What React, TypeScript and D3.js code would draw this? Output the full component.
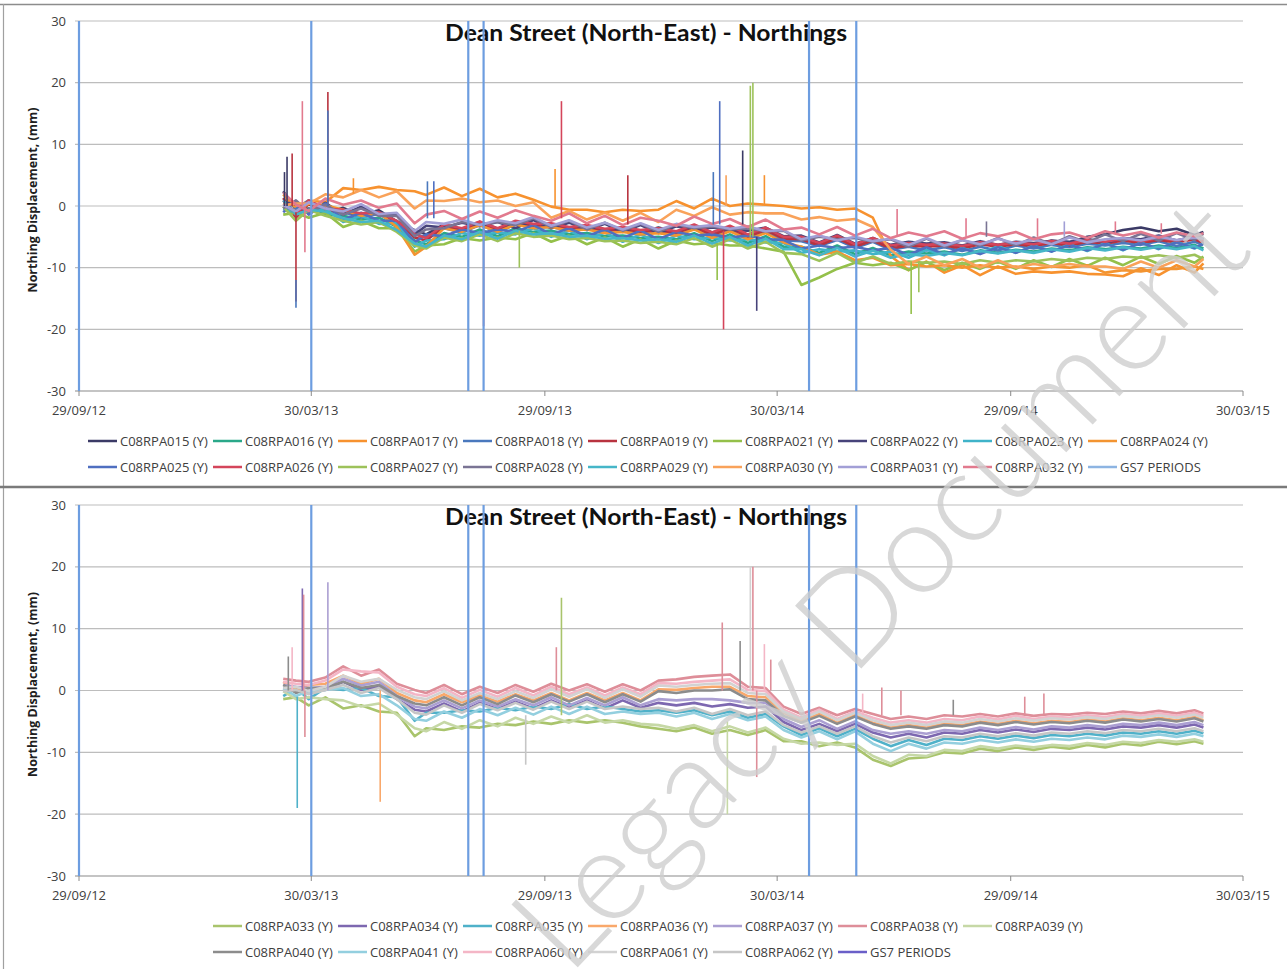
import * as d3 from "d3";

// sample dates shared by every series (both panels)
const dates = [
  "2013-03-08", "2013-03-18", "2013-03-28", "2013-04-10", "2013-04-24", "2013-05-08", "2013-05-22", "2013-06-05", "2013-06-19", "2013-06-28",
  "2013-07-12", "2013-07-26", "2013-08-09", "2013-08-23", "2013-09-06", "2013-09-20", "2013-10-04", "2013-10-18", "2013-11-01", "2013-11-15",
  "2013-11-29", "2013-12-13", "2013-12-27", "2014-01-10", "2014-01-24", "2014-02-07", "2014-02-21", "2014-03-07", "2014-03-21", "2014-04-04",
  "2014-04-18", "2014-05-02", "2014-05-16", "2014-05-30", "2014-06-13", "2014-06-27", "2014-07-11", "2014-07-25", "2014-08-08", "2014-08-22",
  "2014-09-05", "2014-09-19", "2014-10-03", "2014-10-17", "2014-10-31", "2014-11-14", "2014-11-28", "2014-12-12", "2014-12-26", "2015-01-09",
  "2015-01-23", "2015-02-06", "2015-02-20", "2015-02-27",
];

const xTickDates = ["2012-09-29", "2013-03-30", "2013-09-29", "2014-03-30", "2014-09-29", "2015-03-30"];
const xTickLabels = ["29/09/12", "30/03/13", "29/09/13", "30/03/14", "29/09/14", "30/03/15"];
const yTicks = [-30, -20, -10, 0, 10, 20, 30];
const gs7Dates = ["2012-09-29", "2013-03-30", "2013-07-31", "2013-08-12", "2014-04-24", "2014-05-31"];

// ---- top chart series (mm)
const topNames = [
  "C08RPA015", "C08RPA016", "C08RPA017", "C08RPA018", "C08RPA019", "C08RPA021", "C08RPA022", "C08RPA023", "C08RPA024",
  "C08RPA025", "C08RPA026", "C08RPA027", "C08RPA028", "C08RPA029", "C08RPA030", "C08RPA031", "C08RPA032",
];
const s015 = [2.4, -0.6, -0.4, -1.1, -0.3, -1.4, -0.7, -2.5, -3.9, -4.6, -3.0, -3.8, -2.6, -3.7, -2.7, -3.3, -3.1, -3.8, -3.3, -4.0, -3.6, -4.3, -3.5, -4.2, -3.2, -4.3, -3.6, -4.7, -3.8, -5.1, -5.2, -6.1, -5.1, -6.3, -5.5, -6.5, -6.1, -6.6, -6.1, -6.7, -6.0, -6.5, -5.9, -6.2, -5.6, -5.9, -5.0, -4.6, -3.9, -3.5, -4.1, -3.7, -4.7, -4.2];
const s016 = [-0.1, -1.4, 0.4, -1.4, -1.6, -2.2, -1.9, -3.4, -5.6, -6.2, -4.4, -5.0, -3.8, -4.9, -3.6, -4.2, -4.0, -4.6, -4.4, -4.9, -4.8, -5.2, -5.0, -5.4, -4.4, -5.7, -4.6, -6.0, -4.9, -6.6, -6.6, -7.6, -6.4, -7.8, -6.8, -8.0, -7.4, -7.7, -7.4, -7.9, -7.2, -7.6, -7.1, -7.4, -6.9, -7.2, -6.7, -7.0, -6.6, -6.9, -6.4, -6.8, -6.3, -6.9];
const s017 = [1.9, -0.4, 0.9, 0.6, 2.9, 2.6, 3.1, 2.6, 2.4, 1.8, 3.0, 1.6, 2.8, 1.4, 2.0, 1.0, -0.1, -0.6, -0.6, -1.0, -0.6, -0.8, -0.6, 0.8, -0.4, 1.2, 0.0, 0.4, 0.2, 0.0, -0.4, -0.2, -0.6, -0.4, -1.9, -8.1, -10.4, -9.0, -10.8, -9.6, -11.2, -9.8, -11.0, -10.6, -10.8, -10.6, -11.0, -11.1, -11.4, -10.1, -11.2, -9.6, -10.8, -9.3];
const s018 = [-0.4, -0.5, 0.9, -1.1, -1.0, -1.8, -1.3, -3.0, -4.5, -5.1, -3.6, -4.3, -3.1, -4.2, -3.0, -3.5, -3.4, -4.0, -3.6, -4.3, -4.0, -4.6, -4.2, -4.7, -3.7, -4.9, -3.9, -5.2, -4.2, -5.6, -5.7, -6.5, -5.5, -6.8, -5.8, -7.1, -6.6, -7.2, -6.7, -7.3, -6.6, -7.2, -6.4, -6.9, -6.3, -6.7, -6.1, -6.4, -6.0, -6.3, -5.7, -6.5, -5.8, -6.3];
const s019 = [1.3, -1.9, 0.4, -0.9, -0.8, -1.5, -1.1, -2.6, -5.1, -5.6, -3.4, -4.0, -2.8, -4.0, -2.9, -3.3, -3.2, -3.7, -3.5, -4.0, -3.8, -4.2, -4.0, -4.4, -3.4, -4.7, -3.6, -5.0, -3.9, -5.3, -5.4, -6.4, -5.2, -6.6, -5.6, -6.9, -6.4, -6.6, -6.4, -6.9, -6.2, -6.6, -6.2, -6.5, -6.0, -6.4, -5.8, -6.1, -5.6, -6.0, -5.5, -5.9, -5.4, -6.0];
const s021 = [-1.4, -1.1, -1.9, -1.1, -3.4, -2.4, -3.6, -3.6, -7.4, -6.4, -6.2, -5.2, -5.6, -5.1, -5.4, -4.4, -5.8, -4.8, -6.2, -5.1, -6.6, -5.4, -6.9, -5.6, -6.2, -6.0, -6.4, -6.4, -6.9, -7.4, -12.8, -11.6, -10.2, -9.2, -9.6, -9.2, -10.4, -9.1, -10.4, -9.2, -10.2, -9.0, -10.2, -8.8, -9.9, -8.6, -9.7, -8.4, -9.6, -8.2, -9.4, -8.1, -9.2, -8.2];
const s022 = [0.6, 0.3, -1.1, 0.5, -1.4, -0.1, -1.5, -1.3, -4.6, -3.2, -3.5, -2.7, -3.3, -2.6, -3.6, -2.3, -3.6, -2.7, -3.9, -2.9, -4.2, -3.1, -4.4, -3.3, -3.7, -3.5, -3.9, -4.0, -3.5, -4.9, -4.8, -5.9, -4.7, -6.1, -5.2, -6.3, -5.8, -6.1, -5.9, -6.4, -5.7, -6.3, -5.8, -6.0, -5.7, -5.8, -5.3, -6.0, -5.2, -5.4, -4.8, -5.6, -4.9, -5.4];
const s023 = [-0.4, -1.1, -0.9, -0.4, -2.6, -1.6, -2.9, -2.8, -6.6, -5.6, -5.4, -4.4, -4.8, -4.3, -4.6, -3.6, -5.0, -4.0, -5.4, -4.3, -5.8, -4.6, -6.0, -4.8, -5.4, -5.1, -5.6, -5.4, -5.9, -6.0, -7.6, -7.0, -7.4, -7.2, -7.8, -7.4, -8.4, -7.1, -8.0, -6.8, -7.7, -6.5, -7.6, -6.4, -7.4, -6.2, -7.3, -6.0, -7.2, -5.9, -7.0, -5.8, -6.9, -6.0];
const s024 = [0.4, -0.9, 0.4, 0.1, -0.6, -1.6, -1.1, -3.4, -7.9, -6.6, -3.6, -4.2, -3.1, -4.2, -3.0, -3.6, -3.4, -4.0, -3.8, -4.4, -4.2, -4.6, -4.4, -4.8, -3.8, -5.2, -4.1, -5.4, -4.4, -5.9, -6.6, -7.9, -7.4, -8.8, -8.4, -9.6, -9.4, -9.8, -9.6, -10.0, -9.6, -10.0, -9.8, -10.2, -9.8, -10.0, -9.6, -10.8, -10.4, -10.6, -10.2, -10.2, -9.8, -10.2];
const s025 = [-1.0, 0.8, -1.4, 0.4, -2.2, -1.1, -2.4, -2.4, -5.9, -4.6, -4.9, -3.8, -4.4, -3.8, -4.2, -3.1, -4.6, -3.6, -4.9, -3.8, -5.2, -4.0, -5.4, -4.2, -4.8, -4.6, -5.1, -4.8, -5.4, -5.5, -6.9, -6.4, -6.8, -6.6, -7.2, -6.8, -7.9, -6.7, -7.8, -6.9, -7.8, -6.7, -7.6, -6.5, -7.4, -6.3, -7.2, -6.1, -7.1, -6.0, -6.9, -5.9, -6.8, -6.1];
const s026 = [0.9, -1.4, 0.9, -0.4, -0.6, -1.2, -1.0, -2.4, -4.6, -5.2, -3.0, -3.6, -2.5, -3.6, -2.4, -2.9, -2.8, -3.4, -3.1, -3.7, -3.4, -3.9, -3.6, -4.1, -3.0, -4.3, -3.2, -4.6, -3.5, -5.0, -5.0, -6.0, -4.8, -6.2, -5.2, -6.4, -6.0, -6.3, -6.1, -6.5, -5.9, -6.3, -5.9, -6.2, -5.7, -6.1, -5.5, -5.8, -5.3, -5.7, -5.2, -5.6, -5.1, -5.7];
const s027 = [-0.1, -2.4, -0.6, -1.6, -2.4, -3.0, -2.6, -4.2, -6.4, -6.9, -5.1, -5.7, -4.6, -5.7, -4.4, -5.0, -4.8, -5.4, -5.2, -5.7, -5.6, -6.0, -5.8, -6.2, -5.2, -6.6, -5.4, -6.9, -5.8, -7.6, -7.8, -8.9, -7.6, -9.2, -8.2, -9.4, -9.0, -9.2, -9.0, -9.4, -8.8, -9.2, -8.8, -9.0, -8.6, -8.9, -8.4, -8.6, -8.2, -8.4, -8.0, -8.4, -7.9, -8.6];
const s028 = [-0.4, 0.9, -0.9, 0.2, -1.4, -0.4, -1.6, -1.6, -4.9, -3.8, -3.6, -2.6, -3.0, -2.6, -3.1, -2.0, -3.4, -2.4, -3.8, -2.7, -4.0, -2.9, -4.2, -3.0, -3.6, -3.3, -3.8, -3.6, -4.1, -4.0, -5.6, -5.0, -5.4, -5.2, -5.8, -5.4, -6.6, -5.3, -6.6, -5.5, -6.4, -5.2, -6.4, -5.1, -6.2, -4.9, -5.9, -4.6, -5.7, -4.5, -5.6, -4.4, -5.5, -4.5];
const s029 = [0.9, -1.4, -0.6, -0.9, -2.0, -2.6, -2.4, -3.9, -6.1, -6.6, -4.8, -5.4, -4.2, -5.3, -4.0, -4.6, -4.4, -5.0, -4.8, -5.3, -5.2, -5.6, -5.4, -5.8, -4.8, -6.1, -5.0, -6.4, -5.3, -7.0, -7.0, -8.0, -6.8, -8.2, -7.2, -8.4, -7.8, -8.1, -7.6, -8.0, -7.3, -7.7, -7.2, -7.6, -7.0, -7.4, -6.8, -7.2, -6.7, -7.1, -6.6, -7.0, -6.5, -7.2];
const s030 = [0.1, 0.4, 0.4, 1.9, 1.4, 2.6, 1.4, 2.4, -0.4, 0.9, 0.8, 1.2, 0.6, 0.9, 0.0, 0.6, -1.9, -0.8, -2.2, -1.1, -2.4, -1.1, -2.6, -0.6, -1.6, -0.2, -1.4, -1.0, -1.2, -1.2, -2.2, -1.8, -2.4, -2.1, -3.4, -7.1, -9.4, -8.2, -9.6, -8.6, -10.0, -8.8, -10.0, -9.4, -9.8, -9.4, -9.8, -9.8, -10.2, -9.0, -10.0, -8.8, -9.8, -8.6];
const s031 = [0.2, -0.9, 0.6, -0.4, -0.9, 0.3, -1.3, -1.1, -4.1, -2.6, -2.9, -2.2, -3.1, -2.3, -2.8, -1.8, -3.2, -2.3, -3.5, -2.7, -3.8, -2.8, -3.9, -2.9, -3.4, -3.1, -3.7, -3.3, -4.1, -3.9, -5.4, -4.8, -5.6, -5.0, -5.7, -5.3, -6.3, -5.2, -6.4, -5.5, -6.2, -5.3, -6.1, -5.4, -6.2, -5.1, -5.9, -5.4, -5.2, -5.6, -5.0, -5.5, -5.1, -5.3];
const s032 = [2.2, 0.2, -0.8, 1.2, 0.2, 0.9, -0.3, 0.4, -2.8, -1.4, -0.8, -2.1, -0.9, -1.9, -0.7, -1.6, -2.4, -1.2, -2.8, -1.6, -3.1, -1.9, -2.4, -3.2, -1.7, -2.9, -2.1, -3.4, -2.2, -3.8, -3.5, -4.6, -3.4, -4.8, -3.7, -5.2, -4.3, -4.9, -4.1, -5.3, -4.4, -4.9, -4.2, -5.4, -4.6, -4.3, -5.2, -4.1, -4.8, -4.2, -5.1, -4.3, -4.9, -4.4];
const topValues = [s015, s016, s017, s018, s019, s021, s022, s023, s024, s025, s026, s027, s028, s029, s030, s031, s032];

// single-reading spikes: [series, date, level before, spike value]
const topSpikes: [string, string, number, number][] = [
  ["C08RPA015", "2013-03-09", 0, 5.5],
  ["C08RPA015", "2013-03-11", 0, 8],
  ["C08RPA019", "2013-03-15", 0, 8.5],
  ["C08RPA019", "2013-03-18", -1, -15.5],
  ["C08RPA018", "2013-03-18", -12, -16.5],
  ["C08RPA032", "2013-03-23", 0, 17],
  ["C08RPA032", "2013-03-25", 0, -7.5],
  ["C08RPA019", "2013-04-12", 0, 18.5],
  ["C08RPA018", "2013-04-12", 0, 15.5],
  ["C08RPA017", "2013-05-02", 2, 4.5],
  ["C08RPA018", "2013-06-29", -2, 4],
  ["C08RPA025", "2013-07-04", -2, 4],
  ["C08RPA026", "2013-08-12", -3, -19.5],
  ["C08RPA027", "2013-09-09", -4, -10],
  ["C08RPA017", "2013-10-07", 0, 6],
  ["C08RPA026", "2013-10-12", -2, 17],
  ["C08RPA019", "2013-12-03", -3, 5],
  ["C08RPA018", "2014-02-08", -3, 5.5],
  ["C08RPA021", "2014-02-11", -6, -12],
  ["C08RPA025", "2014-02-13", -3, 17],
  ["C08RPA026", "2014-02-16", -4, -20],
  ["C08RPA030", "2014-02-18", 0, 5],
  ["C08RPA015", "2014-03-03", -3, 9],
  ["C08RPA027", "2014-03-09", -5, 19.5],
  ["C08RPA027", "2014-03-11", -5, 20],
  ["C08RPA022", "2014-03-14", -5, -17],
  ["C08RPA017", "2014-03-20", 0, 5],
  ["C08RPA032", "2014-07-02", -5, -0.5],
  ["C08RPA021", "2014-07-13", -9, -17.5],
  ["C08RPA027", "2014-07-19", -9, -14],
  ["C08RPA032", "2014-08-25", -5, -2],
  ["C08RPA028", "2014-09-10", -5, -2.5],
  ["C08RPA032", "2014-10-20", -5, -2],
  ["C08RPA031", "2014-11-10", -5, -2.5],
  ["C08RPA032", "2014-12-20", -4.5, -2.5],
  ["C08RPA032", "2015-01-25", -4.5, -2.8],
];

// ---- bottom chart series (mm)
const bottomNames = [
  "C08RPA033", "C08RPA034", "C08RPA035", "C08RPA036", "C08RPA037", "C08RPA038", "C08RPA039",
  "C08RPA040", "C08RPA041", "C08RPA060", "C08RPA061", "C08RPA062",
];
const s033 = [-1.4, -1.1, -2.4, -1.1, -2.9, -2.4, -3.4, -3.6, -7.4, -6.1, -6.4, -5.8, -6.0, -5.4, -5.6, -5.0, -5.4, -4.8, -5.2, -4.8, -5.2, -5.8, -6.2, -6.6, -6.0, -7.0, -6.4, -7.2, -6.4, -8.2, -8.2, -9.0, -8.4, -9.2, -11.2, -12.2, -11.0, -10.8, -10.0, -10.2, -9.4, -9.8, -9.2, -9.6, -9.1, -9.4, -8.8, -9.2, -8.6, -8.9, -8.3, -8.7, -8.2, -8.6];
const s034 = [0.4, 0.1, -0.1, 0.1, 1.4, 0.1, 0.6, -1.4, -3.1, -3.4, -2.1, -3.4, -2.0, -3.0, -1.8, -2.9, -1.6, -2.8, -1.6, -2.9, -1.6, -2.8, -2.0, -2.4, -2.0, -2.6, -2.2, -2.8, -2.6, -5.1, -6.4, -5.4, -6.6, -5.4, -6.8, -7.6, -7.0, -7.6, -6.8, -7.0, -6.4, -6.8, -6.3, -6.7, -6.2, -6.4, -6.0, -6.3, -5.8, -6.0, -5.6, -6.0, -5.5, -6.0];
const s035 = [-0.9, 0.4, -1.4, 0.4, 0.1, 0.4, -0.9, -1.1, -4.9, -3.6, -3.6, -3.2, -3.4, -2.8, -3.2, -2.6, -3.0, -2.2, -3.0, -2.6, -3.0, -3.4, -3.2, -3.6, -3.2, -4.0, -3.4, -4.4, -3.8, -5.8, -7.2, -6.1, -7.4, -6.2, -7.8, -9.0, -8.0, -8.8, -7.8, -8.0, -7.4, -7.8, -7.3, -7.7, -7.2, -7.4, -7.0, -7.3, -6.8, -7.0, -6.6, -7.0, -6.5, -6.9];
const s036 = [1.4, 0.1, 0.9, 1.1, 2.4, 1.1, 1.9, -0.4, -1.6, -1.9, -0.6, -1.9, -0.8, -1.8, -0.6, -1.6, -0.4, -1.6, -0.4, -1.6, -0.4, -1.6, 0.2, 0.1, 0.4, 0.6, 0.6, -0.9, -1.1, -3.6, -4.9, -3.8, -5.2, -4.0, -5.2, -6.0, -5.6, -6.0, -5.4, -5.6, -5.0, -5.4, -4.9, -5.3, -4.9, -5.1, -4.7, -5.0, -4.5, -4.8, -4.4, -4.8, -4.3, -4.8];
const s037 = [0.9, 0.6, 0.4, 0.6, 1.9, 0.8, 1.4, -0.9, -2.6, -2.9, -1.6, -2.9, -1.6, -2.6, -1.4, -2.4, -1.1, -2.4, -1.2, -2.4, -1.1, -2.4, -1.4, -1.6, -1.4, -1.4, -1.6, -2.0, -2.0, -4.6, -5.9, -4.8, -6.2, -5.0, -6.4, -7.0, -6.6, -7.0, -6.4, -6.6, -6.0, -6.4, -5.9, -6.3, -5.8, -6.0, -5.6, -5.9, -5.4, -5.6, -5.2, -5.6, -5.1, -5.6];
const s038 = [1.9, 1.6, 1.4, 2.1, 3.9, 2.4, 3.4, 1.1, 0.1, -0.4, 0.9, -0.6, 0.6, -0.4, 0.9, -0.2, 1.1, 0.0, 1.0, -0.2, 1.0, 0.0, 1.6, 1.8, 2.2, 2.4, 2.6, 0.6, 0.4, -2.6, -3.8, -2.8, -4.0, -3.0, -3.8, -4.6, -4.2, -4.6, -4.0, -4.2, -3.8, -4.2, -3.7, -4.1, -3.8, -3.9, -3.6, -3.8, -3.4, -3.7, -3.3, -3.7, -3.2, -3.7];
const s039 = [-0.1, -1.4, -1.1, -1.4, -1.6, -2.6, -2.1, -3.9, -6.1, -6.6, -5.1, -6.2, -4.8, -5.8, -4.4, -5.4, -4.2, -5.2, -4.0, -5.2, -4.8, -5.4, -5.6, -6.2, -5.6, -6.6, -5.8, -6.8, -6.0, -7.8, -8.6, -8.4, -8.8, -8.6, -10.6, -11.8, -10.4, -10.6, -9.6, -9.8, -9.0, -9.4, -8.9, -9.2, -8.8, -9.0, -8.5, -8.8, -8.3, -8.5, -8.0, -8.3, -7.9, -8.3];
const s040 = [0.9, -0.4, 0.4, 0.4, 1.4, 0.4, 0.9, -0.9, -2.1, -2.4, -1.1, -2.4, -1.1, -2.2, -0.8, -1.9, -0.6, -1.8, -0.6, -1.9, -0.6, -1.8, -0.1, -0.4, 0.0, 0.0, 0.2, -1.4, -1.6, -4.1, -5.2, -4.1, -5.4, -4.2, -5.4, -6.2, -5.8, -6.2, -5.6, -5.8, -5.2, -5.6, -5.1, -5.5, -5.1, -5.3, -4.9, -5.2, -4.7, -5.0, -4.6, -5.0, -4.5, -5.0];
const s041 = [0.4, -0.9, -0.1, 0.1, 0.4, -0.9, -0.6, -2.4, -4.6, -4.9, -3.4, -4.4, -3.0, -4.0, -2.8, -3.9, -2.6, -3.8, -2.6, -3.8, -3.4, -3.8, -3.6, -4.2, -3.6, -4.6, -3.8, -4.8, -4.2, -6.4, -7.6, -6.6, -7.9, -6.6, -8.6, -9.8, -8.6, -9.4, -8.4, -8.6, -8.0, -8.4, -7.9, -8.3, -7.8, -8.0, -7.6, -7.9, -7.3, -7.5, -7.1, -7.5, -7.0, -7.4];
const s060 = [1.4, 1.1, 0.9, 1.6, 3.4, 3.1, 2.9, 0.6, -0.6, -0.9, 0.4, -1.2, 0.1, -1.0, 0.4, -0.8, 0.6, -0.6, 0.5, -0.8, 0.5, -0.6, 1.2, 1.1, 1.4, 1.6, 1.8, 0.1, -0.1, -3.1, -4.4, -3.1, -4.6, -3.4, -4.4, -5.2, -4.8, -5.2, -4.6, -4.8, -4.2, -4.7, -4.1, -4.6, -4.2, -4.4, -4.0, -4.3, -3.8, -4.1, -3.7, -4.1, -3.6, -4.1];
const s061 = [0.4, 0.6, -0.1, 0.6, 2.4, 1.4, 1.9, 0.1, -1.1, -1.4, -0.1, -1.6, -0.4, -1.4, -0.1, -1.2, 0.2, -1.0, 0.2, -1.2, 0.2, -1.0, 0.8, 0.6, 0.9, 1.1, 1.2, -0.4, -0.6, -3.4, -4.6, -3.4, -4.8, -3.6, -4.8, -5.6, -5.2, -5.6, -5.0, -5.2, -4.6, -5.0, -4.5, -4.9, -4.5, -4.7, -4.3, -4.6, -4.1, -4.4, -4.0, -4.4, -3.9, -4.4];
const s062 = [-0.1, 0.1, -0.6, 0.1, 0.9, -0.4, 0.4, -1.4, -3.6, -3.9, -2.4, -3.6, -2.2, -3.2, -2.0, -3.1, -1.8, -3.0, -1.8, -3.0, -2.6, -3.0, -2.8, -3.4, -2.8, -3.8, -3.0, -4.0, -3.4, -5.6, -6.8, -5.8, -7.0, -5.8, -7.4, -8.4, -7.6, -8.2, -7.4, -7.6, -7.0, -7.4, -6.9, -7.3, -6.8, -7.0, -6.6, -6.9, -6.4, -6.6, -6.2, -6.6, -6.1, -6.6];
const bottomValues = [s033, s034, s035, s036, s037, s038, s039, s040, s041, s060, s061, s062];

const bottomSpikes: [string, string, number, number][] = [
  ["C08RPA040", "2013-03-12", 0, 5.5],
  ["C08RPA060", "2013-03-15", 0, 7],
  ["C08RPA035", "2013-03-19", -1, -19],
  ["C08RPA034", "2013-03-23", 0, 16.5],
  ["C08RPA038", "2013-03-24", 0, 15.5],
  ["C08RPA038", "2013-03-25", 0, -7.5],
  ["C08RPA037", "2013-04-12", 0, 17.5],
  ["C08RPA036", "2013-05-23", 0, -18],
  ["C08RPA062", "2013-09-14", -4, -12],
  ["C08RPA038", "2013-10-08", 0, 7],
  ["C08RPA033", "2013-10-12", -4, 15],
  ["C08RPA038", "2014-02-15", 0, 11],
  ["C08RPA039", "2014-02-19", -5, -20],
  ["C08RPA040", "2014-03-01", 0, 8],
  ["C08RPA061", "2014-03-09", 0, 20],
  ["C08RPA038", "2014-03-11", 0, 20],
  ["C08RPA038", "2014-03-14", 0, -14],
  ["C08RPA060", "2014-03-20", 0, 7.5],
  ["C08RPA038", "2014-03-25", 0, 5],
  ["C08RPA060", "2014-06-05", -4, -0.5],
  ["C08RPA038", "2014-06-20", -4, 0.5],
  ["C08RPA038", "2014-07-05", -4, 0],
  ["C08RPA040", "2014-08-15", -4, -1.5],
  ["C08RPA038", "2014-10-10", -4, -1],
  ["C08RPA038", "2014-10-25", -4, -0.5],
];

const colors: Record<string, string> = {
  C08RPA015: "#3b3a66", C08RPA016: "#2aa889", C08RPA017: "#f7922f", C08RPA018: "#4a78bd",
  C08RPA019: "#b8333f", C08RPA021: "#94c04a", C08RPA022: "#47437a", C08RPA023: "#3fb3c9",
  C08RPA024: "#f39431", C08RPA025: "#4f6fc0", C08RPA026: "#d4455b", C08RPA027: "#9dc25a",
  C08RPA028: "#7a7494", C08RPA029: "#46b6c8", C08RPA030: "#f9a25a", C08RPA031: "#a29fd6",
  C08RPA032: "#e27a8e",
  C08RPA033: "#a9c46c", C08RPA034: "#7d68b0", C08RPA035: "#4fb1c9", C08RPA036: "#f9a86b",
  C08RPA037: "#ab9fd2", C08RPA038: "#de8e99", C08RPA039: "#c6d8a6", C08RPA040: "#8c8c8c",
  C08RPA041: "#93cfdf", C08RPA060: "#f4b6c6", C08RPA061: "#d2d2d2", C08RPA062: "#c6c6c6",
};

const parse = (s: string) => new Date(s + "T00:00:00Z");
const W = 1287;
const H = 969;

const x = d3.scaleUtc().domain([parse("2012-09-29"), parse("2015-03-30")]).range([79, 1243]);
const dateObjs = dates.map(parse);

const TICK_FONT = "'Open Sans', sans-serif";
const LEGEND_FONT = "'Liberation Sans Narrow', 'Open Sans', sans-serif";

type PanelProps = {
  y0: number;
  y1: number;
  names: string[];
  values: number[][];
  spikes: [string, string, number, number][];
  legendRows: string[][];
  legendX: number;
  legendY: number[];
  gs7Legend: string;
};

function Panel({ y0, y1, names, values, spikes, legendRows, legendX, legendY, gs7Legend }: PanelProps) {
  const y = d3.scaleLinear().domain([-30, 30]).range([y1, y0]);
  const line = d3.line<number>().x((_, i) => x(dateObjs[i])).y((v) => y(v));
  const mid = (y0 + y1) / 2;

  return (
    <g>
      {yTicks.map((t) => (
        <g key={t}>
          <line x1={75} x2={1243} y1={y(t)} y2={y(t)} stroke={t === -30 ? "#8a8a8a" : "#bdbdbd"} strokeWidth={1.2} />
          <text x={66} y={y(t)} dy="0.35em" textAnchor="end" fontFamily={TICK_FONT} fontSize={13} fill="#404040">{t}</text>
        </g>
      ))}
      {xTickDates.map((d, i) => (
        <g key={d}>
          <line x1={x(parse(d))} x2={x(parse(d))} y1={y1} y2={y1 + 5} stroke="#8a8a8a" />
          <text x={x(parse(d))} y={y1 + 24} textAnchor="middle" fontFamily={TICK_FONT} fontSize={13} fill="#404040">{xTickLabels[i]}</text>
        </g>
      ))}
      <text
        transform={`translate(37,${mid - 6}) rotate(-90)`}
        textAnchor="middle"
        fontFamily={TICK_FONT}
        fontWeight={700}
        fontSize={12.5}
        fill="#202020"
      >
        Northing Displacement, (mm)
      </text>
      <text x={646} y={y0 + 20} textAnchor="middle" fontFamily="Lato, sans-serif" fontWeight={700} fontSize={22} textLength={402} lengthAdjust="spacingAndGlyphs" fill="#111">
        Dean Street (North-East) - Northings
      </text>
      {values.map((vals, i) => (
        <path key={names[i]} d={line(vals) ?? ""} fill="none" stroke={colors[names[i]]} strokeWidth={2.6} strokeLinejoin="round" />
      ))}
      {spikes.map(([s, d, b, v], i) => (
        <line key={i} x1={x(parse(d))} x2={x(parse(d))} y1={y(b)} y2={y(v)} stroke={colors[s]} strokeWidth={1.6} />
      ))}
      {gs7Dates.map((d) => (
        <line key={d} x1={x(parse(d))} x2={x(parse(d))} y1={y0} y2={y1} stroke="#6d9de0" strokeWidth={2.2} />
      ))}
      {legendRows.map((row, r) =>
        row.map((name, k) => {
          const lx = legendX + k * 125;
          const ly = legendY[r];
          const isGs7 = name === "GS7";
          return (
            <g key={name}>
              <line x1={lx} x2={lx + 29} y1={ly} y2={ly} stroke={isGs7 ? gs7Legend : colors[name]} strokeWidth={2.5} />
              <text x={lx + 32} y={ly} dy="0.35em" fontFamily={LEGEND_FONT} fontSize={13} fill="#404040">
                {isGs7 ? "GS7 PERIODS" : `${name} (Y)`}
              </text>
            </g>
          );
        })
      )}
    </g>
  );
}

export default function App() {
  return (
    <svg width={W} height={H} style={{ position: "absolute", left: 0, top: 0, background: "#fff" }}>
      <rect x={0} y={0} width={W} height={H} fill="#fff" />
      <line x1={0} x2={W} y1={4.5} y2={4.5} stroke="#8c8c8c" strokeWidth={1.5} />
      <line x1={3.5} x2={3.5} y1={4} y2={969} stroke="#a0a0a0" strokeWidth={1.2} />
      <Panel
        y0={21}
        y1={391}
        names={topNames}
        values={topValues}
        spikes={topSpikes}
        legendRows={[topNames.slice(0, 9), [...topNames.slice(9), "GS7"]]}
        legendX={88}
        legendY={[441, 467]}
        gs7Legend="#8db4e2"
      />
      <line x1={0} x2={W} y1={487} y2={487} stroke="#7a7a7a" strokeWidth={2.5} />
      <Panel
        y0={505}
        y1={876}
        names={bottomNames}
        values={bottomValues}
        spikes={bottomSpikes}
        legendRows={[bottomNames.slice(0, 7), [...bottomNames.slice(7), "GS7"]]}
        legendX={213}
        legendY={[926, 952]}
        gs7Legend="#6a5fc8"
      />
      <text
        transform="translate(912,615) rotate(-46.5)"
        textAnchor="middle"
        fontFamily="Lato, sans-serif"
        fontWeight={300}
        fontSize={129}
        fill="#cfcfcf"
        opacity={0.8}
      >
        Legacy Document
      </text>
    </svg>
  );
}
